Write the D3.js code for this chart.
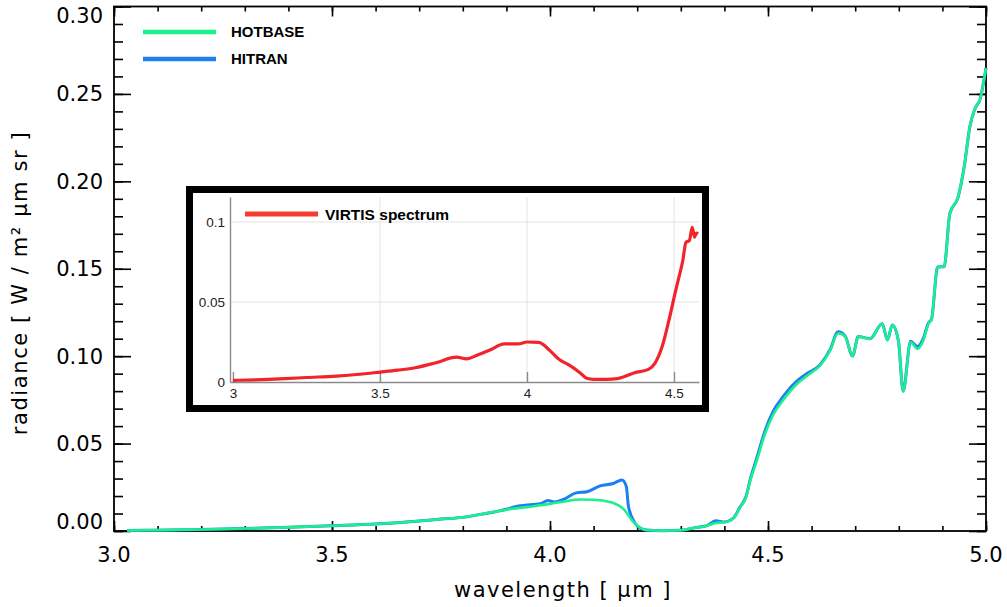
<!DOCTYPE html>
<html>
<head>
<meta charset="utf-8">
<script src="https://cdn.jsdelivr.net/npm/d3@7"></script>
<style>
  body { margin: 0; background: #fff; }
  svg { display: block; }
</style>
</head>
<body>
<svg id="chart" width="1007" height="607"></svg>
<script>
// main spectrum: HOTBASE
const hotbaseWl = [3.03, 3.1, 3.2, 3.3, 3.4, 3.5, 3.6, 3.7, 3.75, 3.8, 3.84, 3.9, 3.95, 4.0, 4.04, 4.07, 4.1, 4.14, 4.17, 4.19, 4.21, 4.22, 4.26, 4.3, 4.33, 4.36, 4.38, 4.4, 4.42, 4.436, 4.45, 4.459, 4.474, 4.493, 4.512, 4.535, 4.565, 4.588, 4.619, 4.642, 4.661, 4.677, 4.694, 4.707, 4.734, 4.762, 4.774, 4.785, 4.799, 4.81, 4.827, 4.843, 4.856, 4.868, 4.875, 4.889, 4.904, 4.917, 4.936, 4.95, 4.963, 4.975, 4.986, 5.0];
const hotbaseRad = [0.0003, 0.0005, 0.0009, 0.0014, 0.0021, 0.0030, 0.0040, 0.0057, 0.0068, 0.0078, 0.0095, 0.0122, 0.0138, 0.0155, 0.0172, 0.0180, 0.0179, 0.0164, 0.0122, 0.0055, 0.0015, 0.0006, 0.0002, 0.0004, 0.0018, 0.0030, 0.0046, 0.0050, 0.0070, 0.0135, 0.0195, 0.0285, 0.0400, 0.0555, 0.0665, 0.0750, 0.0838, 0.0885, 0.0945, 0.1030, 0.1131, 0.1112, 0.1001, 0.1112, 0.1100, 0.1185, 0.1093, 0.1178, 0.1090, 0.0800, 0.1080, 0.1042, 0.1088, 0.1185, 0.1210, 0.1510, 0.1512, 0.1815, 0.1910, 0.2083, 0.2313, 0.2418, 0.2466, 0.2647];

// main spectrum: HITRAN
const hitranWl = [3.03, 3.1, 3.2, 3.3, 3.4, 3.5, 3.6, 3.7, 3.75, 3.8, 3.84, 3.9, 3.92, 3.96, 3.98, 3.995, 4.01, 4.03, 4.06, 4.085, 4.115, 4.145, 4.165, 4.175, 4.18, 4.195, 4.21, 4.22, 4.26, 4.3, 4.33, 4.36, 4.38, 4.4, 4.42, 4.436, 4.45, 4.459, 4.474, 4.493, 4.512, 4.535, 4.565, 4.588, 4.619, 4.642, 4.661, 4.677, 4.694, 4.707, 4.734, 4.762, 4.774, 4.785, 4.799, 4.81, 4.827, 4.843, 4.856, 4.868, 4.875, 4.889, 4.904, 4.917, 4.936, 4.95, 4.963, 4.975, 4.986, 5.0];
const hitranRad = [0.0003, 0.0005, 0.0009, 0.0014, 0.0021, 0.0030, 0.0040, 0.0057, 0.0068, 0.0078, 0.0095, 0.0124, 0.0139, 0.0152, 0.0158, 0.0174, 0.0166, 0.0180, 0.0218, 0.0225, 0.0258, 0.0272, 0.0292, 0.0255, 0.0140, 0.0045, 0.0012, 0.0006, 0.0002, 0.0004, 0.0018, 0.0031, 0.0058, 0.0052, 0.0072, 0.0138, 0.0200, 0.0292, 0.0415, 0.0572, 0.0685, 0.0770, 0.0855, 0.0898, 0.0950, 0.1035, 0.1140, 0.1115, 0.1001, 0.1112, 0.1100, 0.1185, 0.1093, 0.1178, 0.1090, 0.0800, 0.1085, 0.1055, 0.1100, 0.1190, 0.1212, 0.1510, 0.1512, 0.1815, 0.1910, 0.2083, 0.2313, 0.2418, 0.2466, 0.2650];

// inset: VIRTIS spectrum
const virtisWl = [3.0, 3.1, 3.177, 3.25, 3.352, 3.42, 3.5, 3.56, 3.62, 3.69, 3.76, 3.795, 3.83, 3.876, 3.923, 3.97, 4.0, 4.04, 4.075, 4.11, 4.144, 4.18, 4.203, 4.226, 4.27, 4.308, 4.366, 4.413, 4.436, 4.46, 4.483, 4.506, 4.517, 4.529, 4.541, 4.552, 4.562, 4.57, 4.576, 4.582];
const virtisRad = [0.0010, 0.0015, 0.0021, 0.0028, 0.0037, 0.0047, 0.0062, 0.0074, 0.0089, 0.0120, 0.0155, 0.0145, 0.0167, 0.0202, 0.0238, 0.0238, 0.0250, 0.0248, 0.0202, 0.0140, 0.0105, 0.0058, 0.0023, 0.0017, 0.0017, 0.0021, 0.0058, 0.0079, 0.0120, 0.0223, 0.0388, 0.0574, 0.0657, 0.0750, 0.0874, 0.0884, 0.0967, 0.0905, 0.0930, 0.0926];

const xMajorTicks = [3.0, 3.5, 4.0, 4.5, 5.0];
const yMajorTicks = [0.00, 0.05, 0.10, 0.15, 0.20, 0.25, 0.30];
const insetXTicks = [3, 3.5, 4, 4.5];
const insetYTicks = [0, 0.05, 0.1];

const seriesNames = ["HOTBASE", "HITRAN"];
const seriesColors = ["#1cf08c", "#1e80f0"];

const svg = d3.select("#chart");
const font = "'DejaVu Sans', sans-serif";
const insetFont = "'Liberation Sans', Arial, sans-serif";

const plotL = 114, plotR = 986, plotT = 6.5, plotB = 531;
const x = d3.scaleLinear().domain([3.0, 5.0]).range([plotL, plotR]);
const y = d3.scaleLinear().domain([0, 0.30]).range([plotB, plotT]);

const xMinor = d3.range(30, 51).map(d => d / 10);
const yMinor = d3.range(0, 31).map(d => d / 100);

// ticks, inward on all four sides
function ticks(gen, pos, vals, size) {
  svg.append("g")
    .attr("transform", pos)
    .call(gen.tickValues(vals).tickSize(size).tickFormat(""))
    .call(g => g.select(".domain").remove())
    .selectAll("line").attr("stroke", "#000").attr("stroke-width", 1.6);
}
ticks(d3.axisBottom(x), `translate(0,${plotB})`, xMinor, -5);
ticks(d3.axisBottom(x), `translate(0,${plotB})`, xMajorTicks, -10);
ticks(d3.axisTop(x), `translate(0,${plotT})`, xMinor, -5);
ticks(d3.axisTop(x), `translate(0,${plotT})`, xMajorTicks, -10);
ticks(d3.axisLeft(y), `translate(${plotL},0)`, yMinor, -9);
ticks(d3.axisLeft(y), `translate(${plotL},0)`, yMajorTicks, -17);
ticks(d3.axisRight(y), `translate(${plotR},0)`, yMinor, -9);
ticks(d3.axisRight(y), `translate(${plotR},0)`, yMajorTicks, -17);

svg.append("rect")
  .attr("x", plotL).attr("y", plotT)
  .attr("width", plotR - plotL).attr("height", plotB - plotT)
  .attr("fill", "none").attr("stroke", "#000").attr("stroke-width", 1.8);

// tick labels
svg.append("g").selectAll("text")
  .data(xMajorTicks).enter().append("text")
  .attr("x", d => x(d)).attr("y", 562)
  .attr("text-anchor", "middle")
  .attr("font-family", font).attr("font-size", 21)
  .text(d3.format(".1f"));

svg.append("g").selectAll("text")
  .data(yMajorTicks).enter().append("text")
  .attr("x", 103)
  .attr("y", d => Math.max(plotT + 8.5, Math.min(plotB - 10, y(d))))
  .attr("dy", "0.36em")
  .attr("text-anchor", "end")
  .attr("font-family", font).attr("font-size", 21)
  .text(d3.format(".2f"));

// axis titles
svg.append("text")
  .attr("x", 563).attr("y", 597)
  .attr("text-anchor", "middle")
  .attr("font-family", font).attr("font-size", 21).attr("letter-spacing", 1.5)
  .text("wavelength [ μm ]");

svg.append("text")
  .attr("transform", "translate(27,283) rotate(-90)")
  .attr("text-anchor", "middle")
  .attr("font-family", font).attr("font-size", 21).attr("letter-spacing", 1.6)
  .text("radiance [ W / m² μm sr ]");

// spectra
const line = d3.line()
  .x(d => x(d[0])).y(d => y(d[1]))
  .curve(d3.curveMonotoneX);

const hotbase = hotbaseWl.map((w, i) => [w, hotbaseRad[i]]);
const hitran = hitranWl.map((w, i) => [w, hitranRad[i]]);

svg.append("path").datum(hitran)
  .attr("d", line).attr("fill", "none")
  .attr("stroke", seriesColors[1]).attr("stroke-width", 3);
svg.append("path").datum(hotbase)
  .attr("d", line).attr("fill", "none")
  .attr("stroke", seriesColors[0]).attr("stroke-width", 2.6);

// legend
const legend = svg.append("g").selectAll("g")
  .data(seriesNames).enter().append("g")
  .attr("transform", (d, i) => `translate(143,${32 + i * 27})`);
legend.append("line")
  .attr("x1", 0).attr("x2", 73)
  .attr("stroke", (d, i) => seriesColors[i]).attr("stroke-width", 4.5);
legend.append("text")
  .attr("x", 88).attr("dy", "0.36em")
  .attr("font-family", insetFont)
  .attr("font-weight", "bold").attr("font-size", 15)
  .text(d => d);

// inset panel
const inset = svg.append("g");
inset.append("rect")
  .attr("x", 189.5).attr("y", 189.5)
  .attr("width", 516).attr("height", 219)
  .attr("fill", "#fff").attr("stroke", "#000").attr("stroke-width", 7);

const ix = d3.scaleLinear().domain([2.99, 4.585]).range([230, 699]);
const iy = d3.scaleLinear().domain([0, 0.1156]).range([382, 197]);

inset.append("g").selectAll("line")
  .data(insetXTicks.slice(1)).enter().append("line")
  .attr("x1", d => ix(d)).attr("x2", d => ix(d))
  .attr("y1", iy.range()[1]).attr("y2", iy.range()[0])
  .attr("stroke", "#e4e4e4").attr("stroke-width", 1);
inset.append("g").selectAll("line")
  .data(insetYTicks.slice(1)).enter().append("line")
  .attr("x1", ix.range()[0]).attr("x2", ix.range()[1])
  .attr("y1", d => iy(d)).attr("y2", d => iy(d))
  .attr("stroke", "#e4e4e4").attr("stroke-width", 1);

inset.append("g")
  .attr("transform", "translate(0,382)")
  .call(d3.axisBottom(ix).tickValues(insetXTicks).tickSize(-10).tickSizeOuter(0).tickPadding(6)
    .tickFormat(d3.format("")))
  .call(g => g.selectAll("line, path").attr("stroke", "#8a8a8a").attr("stroke-width", 1.4))
  .call(g => g.selectAll("text").attr("font-family", insetFont)
    .attr("font-size", 13.5).attr("fill", "#222"));
inset.append("g")
  .attr("transform", "translate(230,0)")
  .call(d3.axisLeft(iy).tickValues(insetYTicks).tickSize(0).tickSizeOuter(0).tickPadding(5)
    .tickFormat(d3.format("")))
  .call(g => g.selectAll("path").attr("stroke", "#8a8a8a").attr("stroke-width", 1.4))
  .call(g => g.selectAll("text").attr("font-family", insetFont)
    .attr("font-size", 13.5).attr("fill", "#222"));

const virtis = virtisWl.map((w, i) => [w, virtisRad[i]]);
inset.append("path").datum(virtis)
  .attr("d", d3.line().x(d => ix(d[0])).y(d => iy(d[1])).curve(d3.curveMonotoneX))
  .attr("fill", "none").attr("stroke", "#f0242a").attr("stroke-width", 3.2);

inset.append("line")
  .attr("x1", 245).attr("x2", 318).attr("y1", 214).attr("y2", 214)
  .attr("stroke", "#f43c30").attr("stroke-width", 5);
inset.append("text")
  .attr("x", 325).attr("y", 214).attr("dy", "0.36em")
  .attr("font-family", insetFont)
  .attr("font-weight", "bold").attr("font-size", 15.5)
  .text("VIRTIS spectrum");
</script>
</body>
</html>
